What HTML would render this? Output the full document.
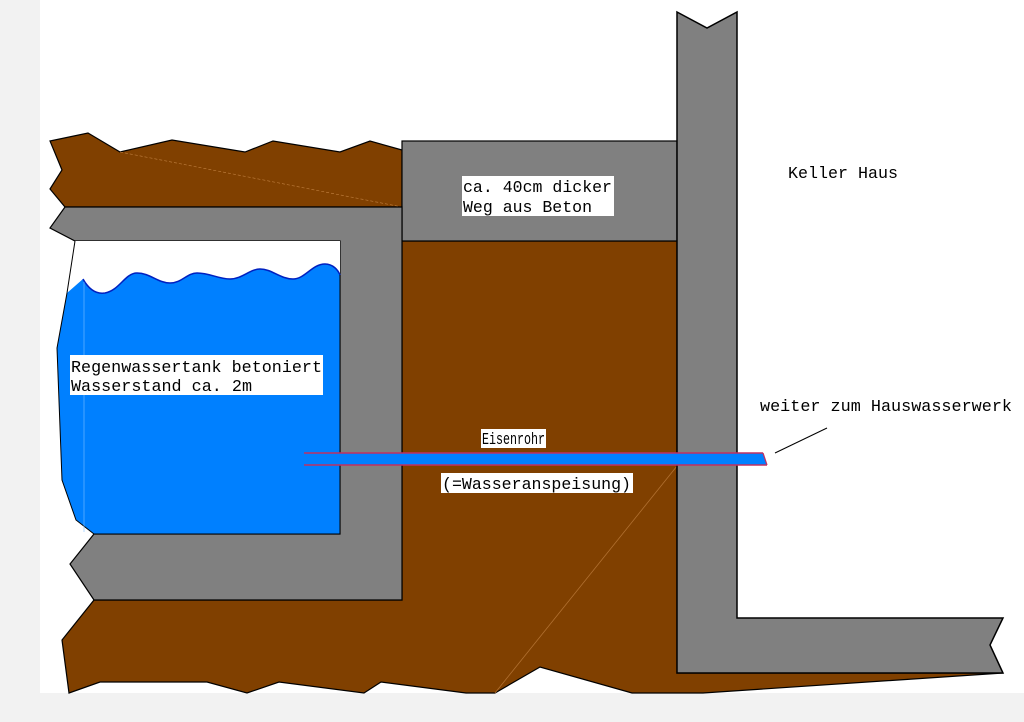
<!DOCTYPE html>
<html><head><meta charset="utf-8"><style>
html,body{margin:0;padding:0;background:#f2f2f2;}
svg{display:block;}
text{font-family:"Liberation Mono","DejaVu Sans Mono",monospace;font-size:16.5px;fill:#000;}
</style></head><body>
<svg width="1024" height="722" viewBox="0 0 1024 722" xmlns="http://www.w3.org/2000/svg">
<rect x="0" y="0" width="1024" height="722" fill="#f2f2f2"/>
<rect x="40" y="0" width="984" height="693" fill="#fff"/>
<!-- bottom soil -->
<polygon points="94,600 402,600 402,241 677,241 677,673 1003,673 703,693 632,693 540,667 495,693 466,693 381,682 364,693 279,682 247,693 207,682 100,682 69,693 62,640" fill="#804000" stroke="#000" stroke-width="1.2"/>
<line x1="495" y1="693" x2="677" y2="466" stroke="#b07030" stroke-width="0.8"/>
<!-- top soil -->
<polygon points="50,141 88,133 120,152 172,140 245,152 273,141 340,152 370,141 402,150 402,207 65,207 50,189 62,170" fill="#804000" stroke="#000" stroke-width="1.2"/>
<line x1="120" y1="152" x2="402" y2="207" stroke="#c08040" stroke-width="0.6" stroke-dasharray="3,2"/>
<!-- path concrete -->
<rect x="402" y="141" width="275" height="100" fill="#808080" stroke="#000" stroke-width="1.2"/>
<!-- tank concrete -->
<polygon points="65,207 402,207 402,600 94,600 70,564 94,534 340,534 340,241 75,241 50,228" fill="#808080" stroke="#000" stroke-width="1.2"/>
<!-- tank interior white -->
<polygon points="75,241 340,241 340,534 94,534 76,520 62,480 57,348 67,293" fill="#fff"/>
<line x1="75" y1="241" x2="67" y2="293" stroke="#000" stroke-width="1"/>
<!-- water -->
<path d="M67,293 L83,279 Q92,295 105,293 C120,290 125,273 137,273 C150,273 158,283 170,283 C182,283 187,273 197,273 C210,273 218,279 230,279 C242,279 250,269 260,269 C272,269 280,279 293,279 C305,279 312,264 325,264 C333,264 338,270 340,275 L340,534 L94,534 L76,520 L62,480 L57,348 Z" fill="#0080ff"/>
<path d="M83,279 Q92,295 105,293 C120,290 125,273 137,273 C150,273 158,283 170,283 C182,283 187,273 197,273 C210,273 218,279 230,279 C242,279 250,269 260,269 C272,269 280,279 293,279 C305,279 312,264 325,264 C333,264 338,270 340,275" fill="none" stroke="#0020c0" stroke-width="1.5"/>
<path d="M67,293 L57,348 L62,480 L76,520 L94,534 L340,534 L340,275" fill="none" stroke="#000" stroke-width="1"/>
<line x1="84" y1="282" x2="84" y2="532" stroke="#80c0ff" stroke-width="0.6"/>
<!-- house wall -->
<polygon points="677,12 707,28 737,12 737,618 1003,618 990,645 1003,673 677,673" fill="#808080" stroke="#000" stroke-width="1.5"/>
<!-- pipe -->
<polygon points="304,453 763,453 767,465 304,465" fill="#0080ff"/>
<line x1="304" y1="453" x2="763" y2="453" stroke="#c03060" stroke-width="1.5"/>
<line x1="304" y1="465" x2="767" y2="465" stroke="#c03060" stroke-width="1.5"/>
<line x1="763" y1="453" x2="767" y2="465" stroke="#c03060" stroke-width="1.2"/>
<line x1="775" y1="453" x2="827" y2="428" stroke="#000" stroke-width="1"/>
<!-- labels -->
<rect x="462" y="176" width="152" height="40" fill="#fff"/>
<text x="463" y="192" textLength="149" lengthAdjust="spacingAndGlyphs">ca. 40cm dicker</text>
<text x="463" y="212" textLength="129" lengthAdjust="spacingAndGlyphs">Weg aus Beton</text>
<text x="788" y="178" textLength="110" lengthAdjust="spacingAndGlyphs">Keller Haus</text>
<rect x="70" y="355" width="253" height="40" fill="#fff"/>
<text x="71" y="372" textLength="251" lengthAdjust="spacingAndGlyphs">Regenwassertank betoniert</text>
<text x="71" y="391" textLength="181" lengthAdjust="spacingAndGlyphs">Wasserstand ca. 2m</text>
<text x="760" y="411" textLength="252" lengthAdjust="spacingAndGlyphs">weiter zum Hauswasserwerk</text>
<rect x="481" y="429" width="65" height="19" fill="#fff"/>
<text x="482" y="444" textLength="63" lengthAdjust="spacingAndGlyphs">Eisenrohr</text>
<rect x="441" y="473" width="192" height="20" fill="#fff"/>
<text x="442" y="489" textLength="189" lengthAdjust="spacingAndGlyphs">(=Wasseranspeisung)</text>
</svg>
</body></html>
